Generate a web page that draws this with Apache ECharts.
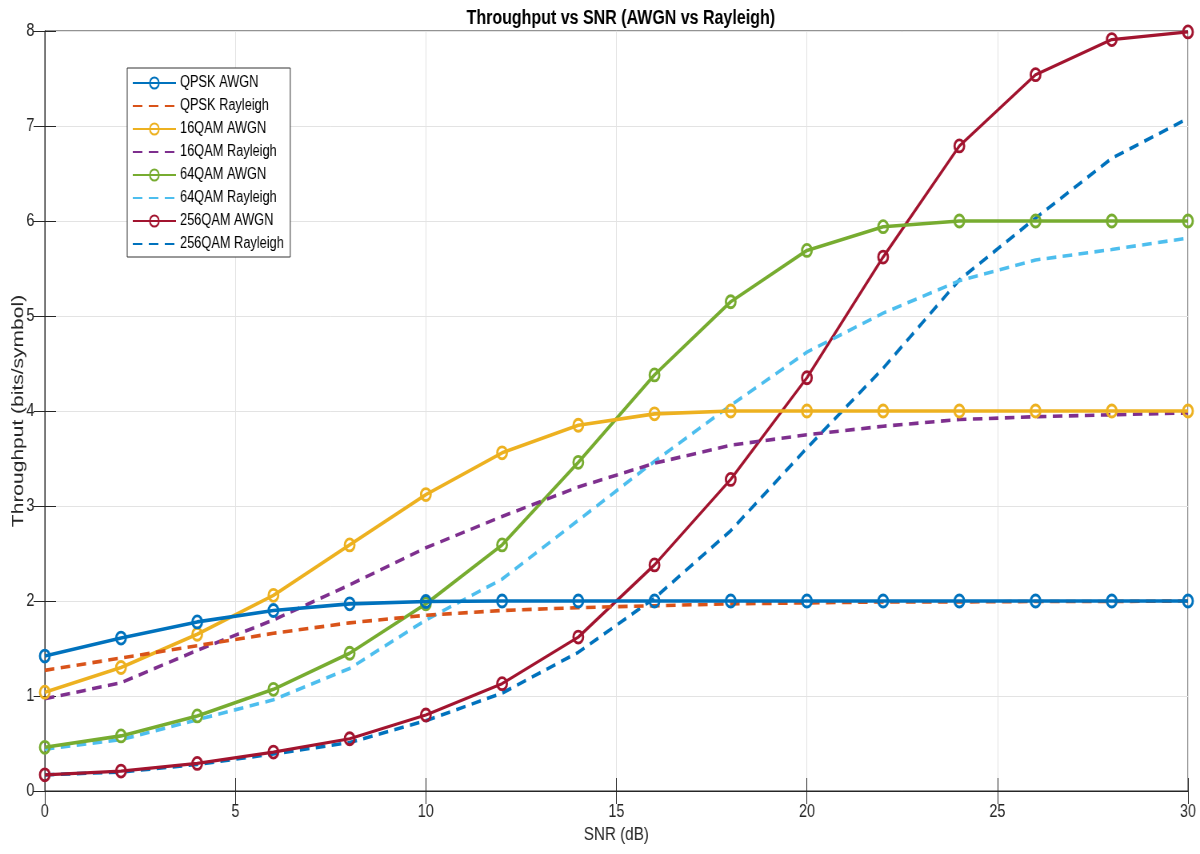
<!DOCTYPE html>
<html>
<head>
<meta charset="utf-8">
<script src="https://cdn.jsdelivr.net/npm/echarts@6/dist/echarts.min.js"></script>
<style>
html,body{margin:0;padding:0;background:#fff;overflow:hidden;width:1200px;height:854px}
#c{width:1500px;height:854px;transform:scaleX(0.8);transform-origin:0 0}
</style>
</head>
<body>
<div id="c"></div>
<script>
const snr = [0, 2, 4, 6, 8, 10, 12, 14, 16, 18, 20, 22, 24, 26, 28, 30];
const qpskAwgn     = [1.42, 1.61, 1.78, 1.90, 1.97, 1.995, 2.0, 2.0, 2.0, 2.0, 2.0, 2.0, 2.0, 2.0, 2.0, 2.0];
const qpskRay      = [1.27, 1.40, 1.53, 1.66, 1.77, 1.85, 1.90, 1.93, 1.95, 1.97, 1.98, 1.99, 1.99, 1.995, 1.995, 2.0];
const qam16Awgn    = [1.04, 1.30, 1.65, 2.06, 2.59, 3.12, 3.56, 3.85, 3.97, 4.0, 4.0, 4.0, 4.0, 4.0, 4.0, 4.0];
const qam16Ray     = [0.97, 1.14, 1.48, 1.80, 2.17, 2.56, 2.89, 3.20, 3.45, 3.64, 3.75, 3.84, 3.91, 3.94, 3.96, 3.98];
const qam64Awgn    = [0.46, 0.58, 0.79, 1.07, 1.45, 1.97, 2.59, 3.46, 4.38, 5.15, 5.69, 5.94, 6.0, 6.0, 6.0, 6.0];
const qam64Ray     = [0.44, 0.54, 0.75, 0.96, 1.29, 1.80, 2.23, 2.85, 3.47, 4.06, 4.62, 5.03, 5.37, 5.59, 5.70, 5.82];
const qam256Awgn   = [0.17, 0.21, 0.29, 0.41, 0.55, 0.80, 1.13, 1.62, 2.38, 3.28, 4.35, 5.62, 6.79, 7.54, 7.91, 7.99];
const qam256Ray    = [0.17, 0.20, 0.28, 0.39, 0.51, 0.74, 1.03, 1.46, 2.03, 2.74, 3.61, 4.45, 5.38, 6.03, 6.66, 7.08];
const xTicks = [0, 5, 10, 15, 20, 25, 30];
const yTicks = [0, 1, 2, 3, 4, 5, 6, 7, 8];

const names = ['QPSK AWGN','QPSK Rayleigh','16QAM AWGN','16QAM Rayleigh','64QAM AWGN','64QAM Rayleigh','256QAM AWGN','256QAM Rayleigh'];
const values = [qpskAwgn, qpskRay, qam16Awgn, qam16Ray, qam64Awgn, qam64Ray, qam256Awgn, qam256Ray];
const colors = ['#0072BD','#D95319','#EDB120','#7E2F8E','#77AC30','#4DBEEE','#A2142F','#0072BD'];
const dashed = [false, true, false, true, false, true, false, true];

const font = "'Liberation Sans',Arial,sans-serif";
const axisCol = '#262626';

const series = names.map((n, i) => {
  const s = {
    name: n,
    type: 'line',
    data: snr.map((x, k) => [x, values[i][k]]),
    lineStyle: { color: colors[i], width: i === 6 ? 3.2 : 3.6, type: dashed[i] ? [12, 8] : 'solid' },
    color: colors[i],
    z: 10 - i,
    animation: false
  };
  if (dashed[i]) {
    s.symbol = 'none';
    s.showSymbol = false;
  } else {
    s.symbol = 'circle';
    s.symbolSize = 12;
    s.itemStyle = { color: 'rgba(255,255,255,0)', borderColor: colors[i], borderWidth: 2.8 };
  }
  return s;
});

const legendData = names.map((n, i) => dashed[i]
  ? { name: n, itemStyle: { color: 'rgba(0,0,0,0)', borderWidth: 0, opacity: 0 } }
  : { name: n });

const chart = echarts.init(document.getElementById('c'));
chart.setOption({
  backgroundColor: '#fff',
  animation: false,
  title: {
    text: 'Throughput vs SNR (AWGN vs Rayleigh)',
    left: 771, top: 3, textAlign: 'center',
    textStyle: { fontFamily: font, fontSize: 20, fontWeight: 'bold', color: '#000' }
  },
  grid: { left: 56, right: 15, top: 31, bottom: 63, outerBoundsMode: 'none', containLabel: false,
          show: true, borderColor: axisCol, borderWidth: 1, backgroundColor: '#fff' },
  legend: {
    orient: 'vertical', left: 159, top: 68,
    itemWidth: 54, itemHeight: 14, itemGap: 7,
    padding: [7, 8, 5, 6],
    backgroundColor: '#fff', borderColor: '#333', borderWidth: 1,
    textStyle: { fontFamily: font, fontSize: 16, color: '#000' },
    data: legendData
  },
  xAxis: [{
    type: 'value', min: 0, max: 30, interval: 5,
    name: 'SNR (dB)', nameLocation: 'middle', nameGap: 34, nameMoveOverlap: false,
    nameTextStyle: { fontFamily: font, fontSize: 19, color: axisCol },
    axisLine: { show: true, lineStyle: { color: axisCol } },
    axisTick: { show: true, inside: true, length: 13, lineStyle: { color: axisCol } },
    axisLabel: { fontFamily: font, fontSize: 18, color: axisCol, margin: 12, customValues: xTicks },
    splitLine: { show: true, lineStyle: { color: '#e3e3e3', width: 1 } }
  }, {
    type: 'value', min: 0, max: 30, interval: 5, position: 'top',
    axisLine: { show: true, lineStyle: { color: axisCol } },
    axisTick: { show: true, inside: true, length: 13, lineStyle: { color: axisCol } },
    axisLabel: { show: false }, splitLine: { show: false }
  }],
  yAxis: [{
    type: 'value', min: 0, max: 8, interval: 1,
    name: 'Throughput (bits/symbol)', nameLocation: 'middle', nameGap: 22, nameMoveOverlap: false,
    nameTextStyle: { fontFamily: font, fontSize: 21, color: axisCol },
    axisLine: { show: true, lineStyle: { color: axisCol } },
    axisTick: { show: true, inside: true, length: 14, lineStyle: { color: axisCol } },
    axisLabel: { fontFamily: font, fontSize: 18, color: axisCol, margin: 13, customValues: yTicks },
    splitLine: { show: true, lineStyle: { color: '#e3e3e3', width: 1 } }
  }, {
    type: 'value', min: 0, max: 8, interval: 1, position: 'right',
    axisLine: { show: true, lineStyle: { color: axisCol } },
    axisTick: { show: true, inside: true, length: 14, lineStyle: { color: axisCol } },
    axisLabel: { show: false }, splitLine: { show: false }
  }],
  series: series
});
</script>
</body>
</html>
